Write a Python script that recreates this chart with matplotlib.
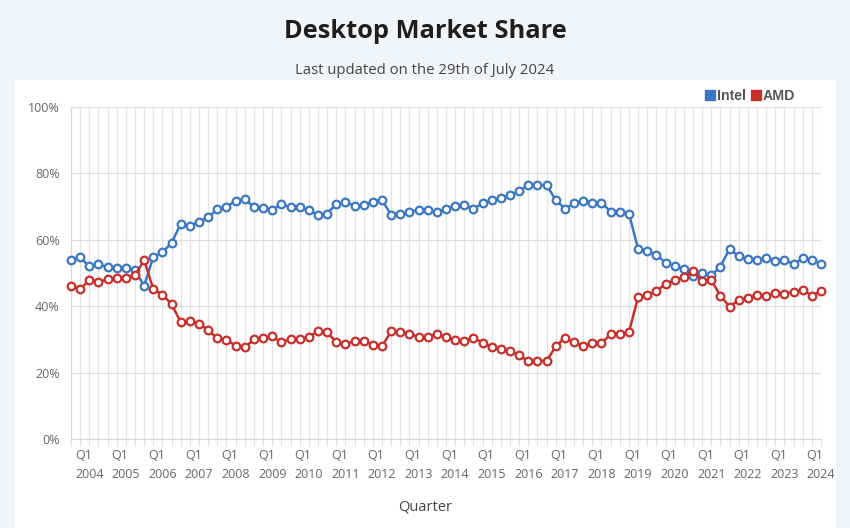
import numpy as np
import matplotlib
matplotlib.use("Agg")
import matplotlib.pyplot as plt
from matplotlib.patches import Rectangle
from matplotlib.lines import Line2D

# quarters 2003 Q3 .. 2024 Q1
quarters = []
for y in range(2003, 2025):
    for q in range(1, 5):
        if (y == 2003 and q < 3) or (y == 2024 and q > 1):
            continue
        quarters.append((y, q))

intel = [54.0, 54.7, 52.0, 52.6, 51.8, 51.4, 51.4, 50.8, 46.1, 54.9,
         56.2, 59.1, 64.8, 64.2, 65.4, 66.8, 69.2, 69.9, 71.8, 72.2,
         69.9, 69.5, 69.0, 70.8, 69.8, 69.8, 68.9, 67.5, 67.9, 70.8,
         71.4, 70.2, 70.4, 71.5, 71.9, 67.6, 67.7, 68.3, 69.1, 69.1,
         68.3, 69.3, 70.2, 70.4, 69.3, 71.0, 72.1, 72.6, 73.4, 74.6,
         76.5, 76.4, 76.5, 72.0, 69.3, 71.0, 71.8, 71.2, 71.2, 68.5,
         68.5, 67.9, 57.3, 56.7, 55.5, 53.1, 52.1, 51.2, 49.1, 49.9,
         49.3, 51.9, 57.3, 55.0, 54.1, 53.8, 54.4, 53.7, 53.9, 52.7,
         54.4, 54.0, 52.8]
amd = [46.0, 45.2, 47.8, 47.3, 48.1, 48.6, 48.6, 49.3, 53.9, 45.1,
       43.5, 40.6, 35.2, 35.6, 34.7, 32.8, 30.3, 29.9, 28.1, 27.6,
       30.0, 30.3, 30.9, 29.1, 30.1, 30.0, 30.8, 32.4, 32.1, 29.2,
       28.5, 29.6, 29.4, 28.4, 27.9, 32.4, 32.3, 31.6, 30.8, 30.7,
       31.7, 30.6, 29.7, 29.5, 30.5, 29.0, 27.7, 27.2, 26.5, 25.2,
       23.5, 23.6, 23.5, 27.9, 30.5, 29.1, 28.0, 28.9, 28.9, 31.5,
       31.6, 32.2, 42.7, 43.4, 44.5, 46.7, 47.9, 48.8, 50.6, 47.5,
       47.9, 43.1, 39.9, 41.8, 42.4, 43.5, 43.1, 43.9, 43.7, 44.4,
       44.8, 43.2, 44.5]

y_ticks = [0, 20, 40, 60, 80, 100]

c_intel = "#3b78c3"
c_amd = "#c92f2a"
grid_c = "#e3e3e3"

plt.rcParams['font.family'] = ['Open Sans', 'DejaVu Sans']

fig = plt.figure(figsize=(8.5, 5.28), dpi=100)
fig.patch.set_facecolor("#f2f5f8")
fig.patches.append(Rectangle((15 / 850, 0.0), (836 - 15) / 850, (528 - 80) / 528,
                             transform=fig.transFigure, facecolor="white",
                             edgecolor="none", zorder=-5))

ax = fig.add_axes([71 / 850, 89 / 528, 750 / 850, 332 / 528])
ax.set_zorder(2)
ax.set_facecolor("white")

x = np.arange(len(quarters))
ax.plot(x, intel, color=c_intel, lw=1.8, marker="o", ms=5.5, mfc="white",
        mec=c_intel, mew=1.6, zorder=3, clip_on=False)
ax.plot(x, amd, color=c_amd, lw=1.8, marker="o", ms=5.5, mfc="white",
        mec=c_amd, mew=1.6, zorder=3, clip_on=False)

ax.set_xlim(0, len(quarters) - 1)
ax.set_ylim(0, 100)

labels = [f"Q{q}\n{y}" if q == 1 else "" for (y, q) in quarters]
ax.set_xticks(x)
ax.set_xticklabels(labels)
for t in ax.get_xticklabels():
    t.set_multialignment("left")
    t.set_linespacing(1.65)
ax.tick_params(axis="x", length=5, color=grid_c, labelsize=9, labelcolor="#666666", pad=2)
ax.set_yticks(y_ticks)
ax.set_yticklabels([f"{v}%" for v in y_ticks])
ax.tick_params(axis="y", length=0, labelsize=9, labelcolor="#666666", pad=8)

ax.grid(axis="x", color=grid_c, lw=0.9)
ax.grid(axis="y", color="#dddddd", lw=0.9)
ax.set_axisbelow(True)
for s in ["top", "right"]:
    ax.spines[s].set_visible(False)
for s in ["left", "bottom"]:
    ax.spines[s].set_color("#d9d9d9")

fig.text(0.5, 1 - 32 / 528, "Desktop Market Share", ha="center", va="center",
         fontsize=18.3, fontweight="bold", color="#1e1e1e")
fig.text(0.5, 1 - 70 / 528, "Last updated on the 29th of July 2024", ha="center",
         va="center", fontsize=10.7, color="#444444")
fig.text(0.5, 1 - 507 / 528, "Quarter", ha="center", va="center",
         fontsize=10.5, color="#444444")

handles = [Line2D([], [], ls="none", marker="s", ms=6.5, color=c_intel),
           Line2D([], [], ls="none", marker="s", ms=6.5, color=c_amd)]
leg = fig.legend(handles, ["Intel", "AMD"], loc="center right",
                 bbox_to_anchor=(802 / 850, 1 - 96 / 528), ncol=2, frameon=False,
                 borderpad=0, handletextpad=0.05, columnspacing=0.35, handlelength=0.8,
                 prop={"family": "Liberation Sans", "weight": "bold", "size": 10.2})
for t in leg.get_texts():
    t.set_color("#555555")

fig.savefig("out.png", dpi=100, facecolor=fig.get_facecolor())
